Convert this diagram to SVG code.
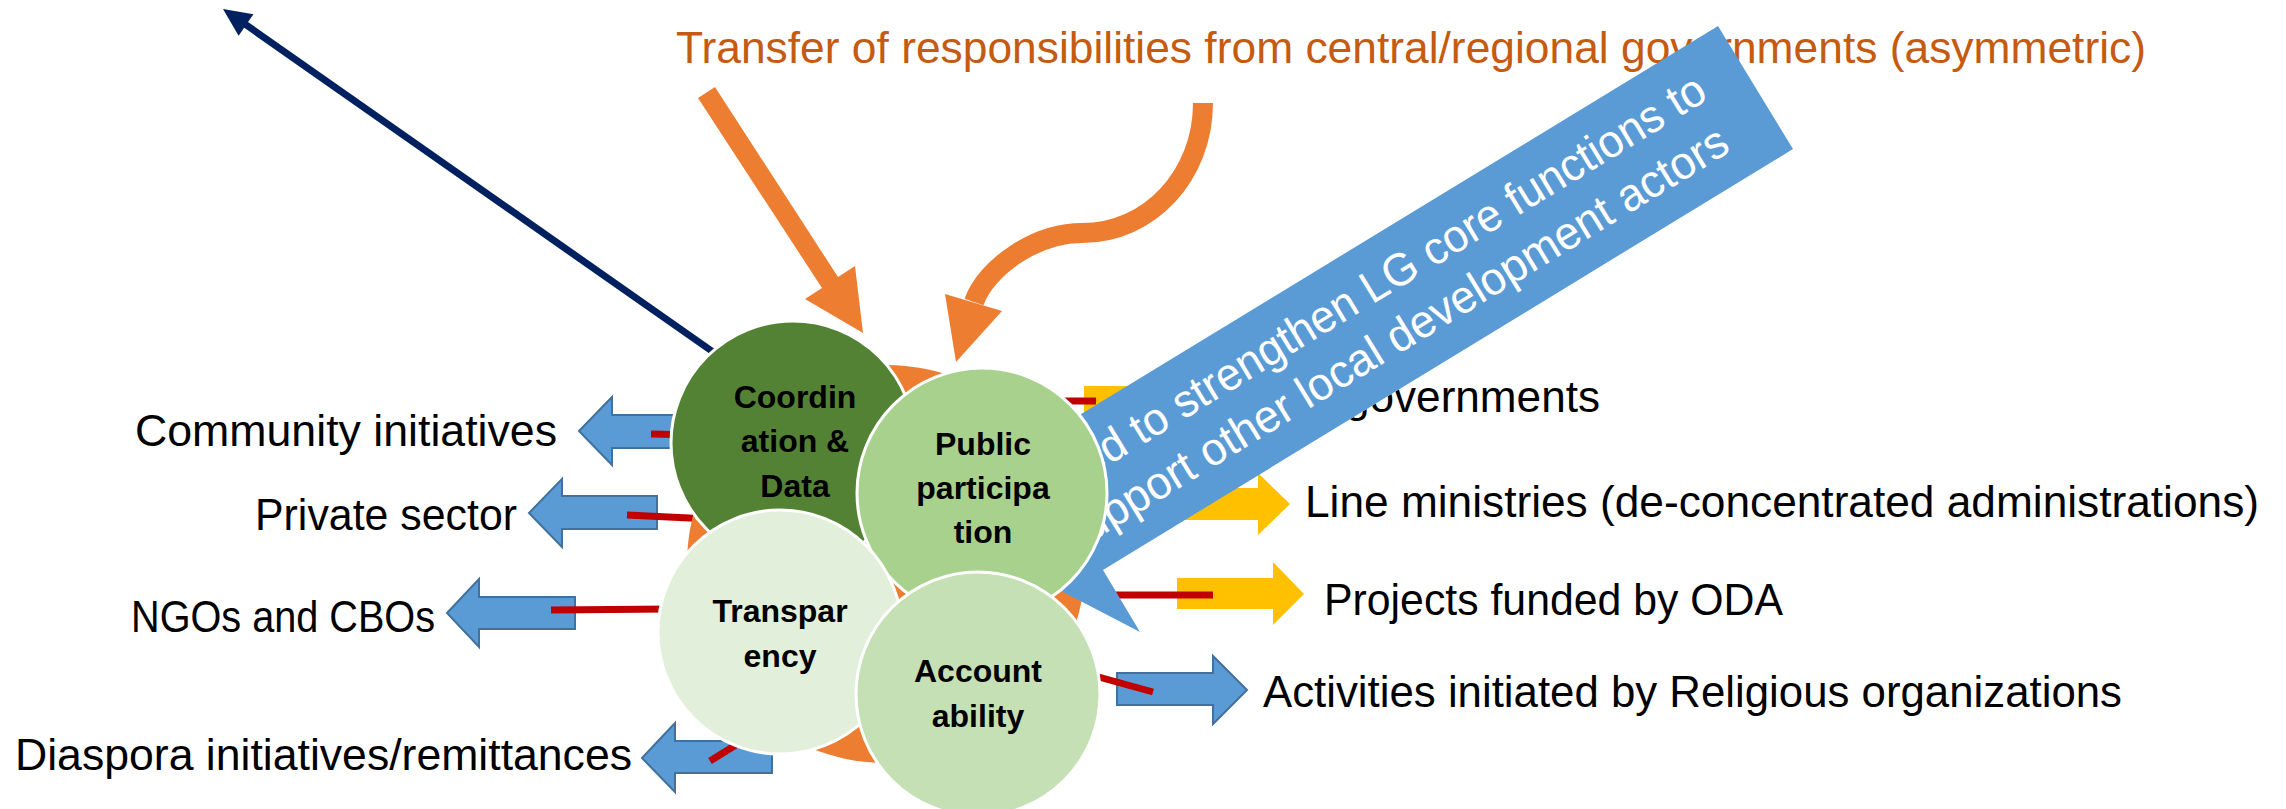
<svg xmlns="http://www.w3.org/2000/svg" width="2286" height="809" viewBox="0 0 2286 809">
<style>
.lbl{font-family:"Liberation Sans",Arial,sans-serif;font-size:44px;fill:#000}
.title{font-family:"Liberation Sans",Arial,sans-serif;font-size:44px;fill:#C55A11}
.ct{font-family:"Liberation Sans",Arial,sans-serif;font-size:32px;font-weight:bold;fill:#000;text-anchor:middle}
.bt{font-family:"Liberation Sans",Arial,sans-serif;font-size:46px;fill:#fff}
.barrow{fill:#5B9BD5;stroke:#41719C;stroke-width:2}
.yarrow{fill:#FFC000}
.red{stroke:#C00000;stroke-width:7;fill:none}
.circ{stroke:#fff;stroke-width:3}
.orange{fill:#ED7D31}
</style>
<defs>
  <clipPath id="belowBanner">
    <polygon points="1793,149 2286,149 2286,809 1103,809 1103,570"/>
  </clipPath>
</defs>
<rect width="2286" height="809" fill="#fff"/>

<g id="connectors">
  <g id="navy-arrow">
    <line x1="716" y1="354" x2="242" y2="22" stroke="#002060" stroke-width="7"/>
    <polygon points="223,9 253.4,14.3 238.6,35.7" fill="#002060"/>
  </g>
  <g id="left-arrows">
    <polygon class="barrow" points="579,431 612,397 612,415 700,415 700,448 612,448 612,465"/>
    <polygon class="barrow" points="529,513 562,479 562,496 657,496 657,529 562,529 562,547"/>
    <polygon class="barrow" points="447,613 479,579 479,597 575,597 575,629 479,629 479,647"/>
    <polygon class="barrow" points="642,758 675,723 675,741 772,741 772,773 675,773 675,792"/>
  </g>
  <g id="right-arrows">
    <polygon class="yarrow" points="1084,386 1258,386 1258,368 1290,402 1258,436 1258,419 1084,419"/>
    <polygon class="yarrow" points="1150,488 1258,488 1258,473 1290,504 1258,535 1258,520 1150,520"/>
    <polygon class="yarrow" points="1177,578 1273,578 1273,562 1304,594 1273,625 1273,609 1177,609"/>
    <polygon class="barrow" points="1117,673 1213,673 1213,656 1247,690 1213,724 1213,705 1117,705"/>
  </g>
  <g id="red-links">
    <line class="red" x1="651" y1="434" x2="700" y2="435"/>
    <line class="red" x1="627" y1="515" x2="710" y2="519"/>
    <line class="red" x1="551" y1="610" x2="670" y2="609"/>
    <line class="red" x1="710" y1="761" x2="752" y2="735"/>
    <line class="red" x1="1050" y1="401" x2="1096" y2="401"/>
    <line class="red" x1="1080" y1="595" x2="1213" y2="595"/>
    <line class="red" x1="1095" y1="676" x2="1153" y2="692"/>
  </g>
  <g id="orange-arrows">
    <polygon class="orange" points="698,98 715,87 838,277 855,266 863,333 805,299 822,288"/>
    <path d="M1203,103 C1203,175 1150,233 1082,233 C1035,233 986,268 974,302" fill="none" stroke="#ED7D31" stroke-width="20"/>
    <polygon class="orange" points="945,294 1002,311 956,362"/>
  </g>
</g>

<g id="orange-cycle">
  <circle class="orange" cx="886" cy="564" r="199"/>
</g>

<g id="title">
  <text class="title" x="676" y="63" textLength="1470" lengthAdjust="spacingAndGlyphs">Transfer of responsibilities from central/regional governments (asymmetric)</text>
</g>

<g id="label-governments" clip-path="url(#belowBanner)">
  <text class="lbl" x="1345" y="412" textLength="255" lengthAdjust="spacingAndGlyphs">governments</text>
</g>

<g id="banner">
  <polygon points="1718,26 1793,149 1103,570 1140,632 990,554 990,386 1027,447" fill="#5B9BD5"/>
  <text class="bt" transform="translate(1040.6,507.1) rotate(-31.4)" textLength="784" lengthAdjust="spacingAndGlyphs">Need to strengthen LG core functions to</text>
  <text class="bt" transform="translate(1071.5,553.9) rotate(-31.4)" textLength="774" lengthAdjust="spacingAndGlyphs">support other local development actors</text>
</g>

<g id="node-coordination">
  <circle class="circ" cx="793" cy="443" r="122" fill="#548235"/>
  <text class="ct" x="795" y="408">Coordin</text>
  <text class="ct" x="795" y="452">ation &amp;</text>
  <text class="ct" x="795" y="497">Data</text>
</g>
<g id="node-public-participation">
  <circle class="circ" cx="982" cy="493" r="125" fill="#A9D18E"/>
  <text class="ct" x="983" y="455">Public</text>
  <text class="ct" x="983" y="499">participa</text>
  <text class="ct" x="983" y="543">tion</text>
</g>
<g id="node-transparency">
  <circle class="circ" cx="780" cy="632" r="122" fill="#E2EFDA"/>
  <text class="ct" x="780" y="622">Transpar</text>
  <text class="ct" x="780" y="667">ency</text>
</g>
<g id="node-accountability">
  <circle class="circ" cx="978" cy="694" r="122" fill="#C5E0B4"/>
  <text class="ct" x="978" y="682">Account</text>
  <text class="ct" x="978" y="727">ability</text>
</g>

<g id="labels">
  <text class="lbl" x="557" y="446" text-anchor="end" textLength="422" lengthAdjust="spacingAndGlyphs">Community initiatives</text>
  <text class="lbl" x="517" y="530" text-anchor="end" textLength="262" lengthAdjust="spacingAndGlyphs">Private sector</text>
  <text class="lbl" x="435" y="632" text-anchor="end" textLength="304" lengthAdjust="spacingAndGlyphs">NGOs and CBOs</text>
  <text class="lbl" x="632" y="770" text-anchor="end" textLength="617" lengthAdjust="spacingAndGlyphs">Diaspora initiatives/remittances</text>
  <text class="lbl" x="1305" y="517" textLength="954" lengthAdjust="spacingAndGlyphs">Line ministries (de-concentrated administrations)</text>
  <text class="lbl" x="1324" y="615" textLength="459" lengthAdjust="spacingAndGlyphs">Projects funded by ODA</text>
  <text class="lbl" x="1263" y="707" textLength="859" lengthAdjust="spacingAndGlyphs">Activities initiated by Religious organizations</text>
</g>
</svg>
